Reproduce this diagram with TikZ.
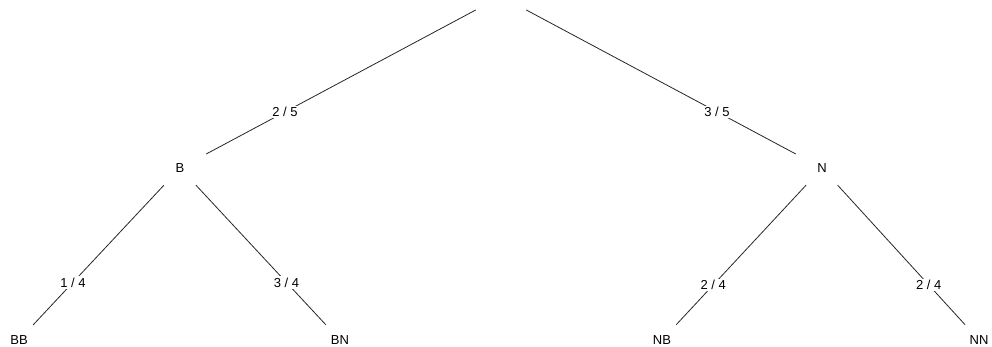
\documentclass[tikz,border=0pt]{standalone}
\usepackage{fontspec}
\setmainfont{Liberation Sans}
\usetikzlibrary{calc}
\begin{document}
\begin{tikzpicture}[x=1pt,y=-1pt,
  every node/.style={font=\fontsize{13}{15}\selectfont, text=black},
  vertex/.style={rectangle, inner sep=0pt, minimum width=52pt, minimum height=34pt},
  leaf/.style={rectangle, inner sep=0pt, minimum width=40pt, minimum height=30pt},
  rootbox/.style={rectangle, inner sep=0pt, minimum width=50pt, minimum height=28pt},
  lbl/.style={fill=white, inner sep=1.5pt},
  edge/.style={draw=black!85, line width=0.8pt}]
\useasboundingbox (0,0) rectangle (992,347);
\node[rootbox] (root) at (501,-3.5) {};
\node[vertex] (B) at (180,168) {B};
\node[vertex] (N) at (822,168) {N};
\node[leaf] (BB) at (19,340) {BB};
\node[leaf] (BN) at (340,340) {BN};
\node[leaf] (NB) at (662,340) {NB};
\node[leaf] (NN) at (979,340) {NN};
\draw[edge] (root) -- (B);
\draw[edge] (root) -- (N);
\draw[edge] (B) -- (BB);
\draw[edge] (B) -- (BN);
\draw[edge] (N) -- (NB);
\draw[edge] (N) -- (NN);
\node[lbl] (l1) at ($(B)!0.327!(root)$) {2 / 5};
\node[lbl] (l2) at ($(N)!0.327!(root)$) {3 / 5};
\node[lbl] (l3) at ($(B)!0.665!(BB)$) {1 / 4};
\node[lbl] (l4) at ($(B)!0.665!(BN)$) {3 / 4};
\node[lbl] (l5) at ($(N)!0.68!(NB)$) {2 / 4};
\node[lbl] (l6) at ($(N)!0.68!(NN)$) {2 / 4};
\end{tikzpicture}
\end{document}
